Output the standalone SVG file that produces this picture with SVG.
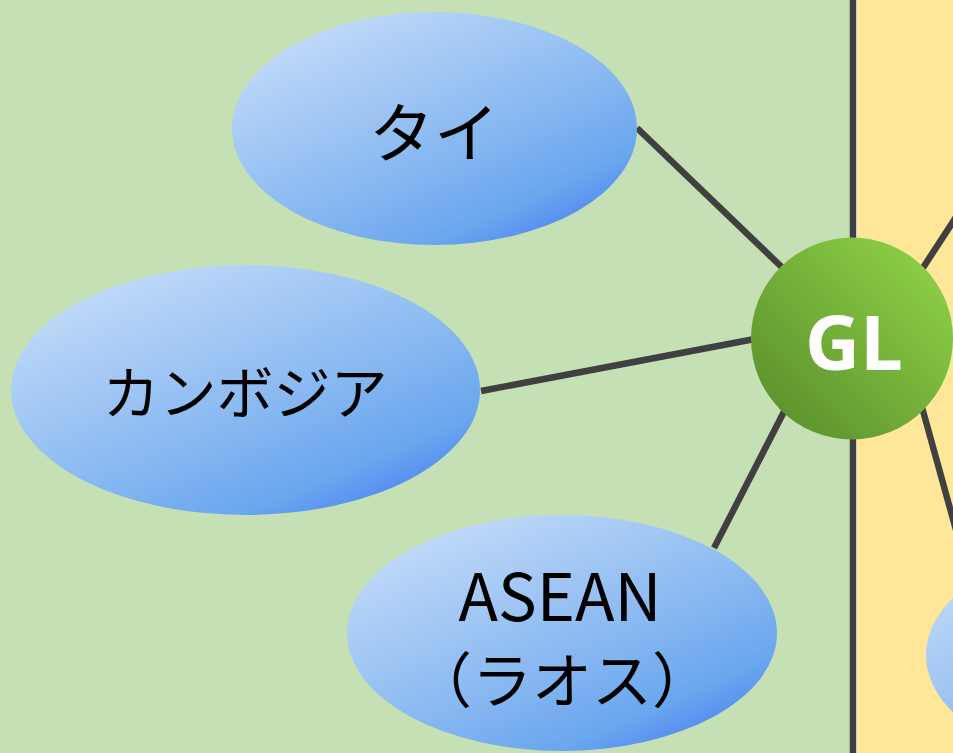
<svg xmlns="http://www.w3.org/2000/svg" width="953" height="753" viewBox="0 0 953 753">
<defs>
<linearGradient id="blue" x1="0.1" y1="0" x2="0.9" y2="1">
<stop offset="0" stop-color="#CADFF9"/>
<stop offset="0.55" stop-color="#8AB9F1"/>
<stop offset="0.8" stop-color="#6AA6EE"/>
<stop offset="1" stop-color="#4676F5"/>
</linearGradient>
<linearGradient id="green" x1="0.9" y1="0.1" x2="0.1" y2="0.9">
<stop offset="0" stop-color="#8DD046"/>
<stop offset="1" stop-color="#5C912D"/>
</linearGradient>
</defs>
<style>
.conn{stroke:#404040;stroke-width:6.5;fill:none}
.node{fill:url(#blue)}
.lbl{font-family:"Noto Sans CJK JP","Noto Sans",sans-serif;font-weight:400;font-size:60px;fill:#000;text-anchor:middle}
.gl{font-family:"Open Sans","Noto Sans",sans-serif;font-weight:bold;font-size:76px;fill:#fff;text-anchor:middle}
</style>
<rect x="0" y="0" width="853" height="753" fill="#C5E0B4"/>
<rect x="853" y="0" width="100" height="753" fill="#FFE699"/>
<line x1="856.5" y1="0" x2="856.5" y2="753" stroke="#ffffff" stroke-width="1"/>
<g id="connectors">
<line class="conn" x1="853" y1="0" x2="853" y2="753"/>
<line class="conn" x1="637" y1="128" x2="790" y2="275"/>
<line class="conn" x1="481" y1="391" x2="760" y2="338"/>
<line class="conn" x1="714" y1="548" x2="790" y2="400"/>
<line class="conn" x1="915" y1="280" x2="962" y2="208"/>
<line class="conn" x1="920" y1="400" x2="956" y2="530"/>
</g>
<g id="node-thai">
<ellipse class="node" cx="434.5" cy="128.5" rx="202.5" ry="116.5"/>
<text class="lbl" x="434" y="157" style="font-size:65px">タイ</text>
</g>
<g id="node-cambodia">
<ellipse class="node" cx="245.5" cy="390" rx="234.5" ry="125"/>
<text class="lbl" x="245" y="414" style="font-size:57px">カンボジア</text>
</g>
<g id="node-asean">
<ellipse class="node" cx="562" cy="633" rx="215" ry="118"/>
<text class="lbl" x="560" y="621" style="font-size:65px">ASEAN</text>
<text class="lbl" x="562" y="703">（ラオス）</text>
</g>
<g id="node-right">
<ellipse class="node" cx="1141" cy="655" rx="215" ry="118"/>
</g>
<g id="node-gl">
<circle cx="852" cy="338.5" r="101" fill="url(#green)"/>
<text class="gl" x="854" y="370">GL</text>
</g>
</svg>
